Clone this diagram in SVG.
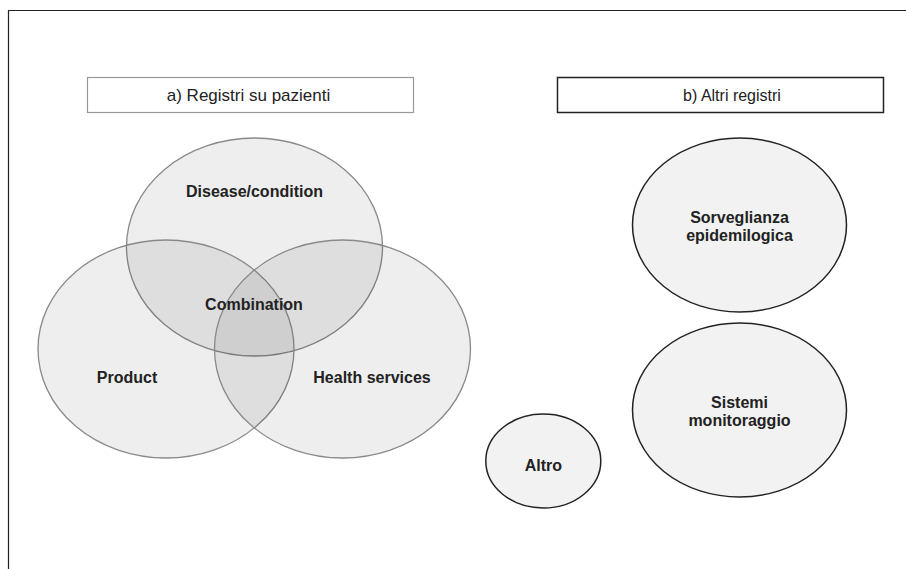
<svg xmlns="http://www.w3.org/2000/svg" width="906" height="569" viewBox="0 0 906 569">
<style>
.lbl{font-family:"Liberation Sans",Arial,Helvetica,sans-serif;font-weight:bold;font-size:16px;fill:#222;text-anchor:middle}
.hdr{font-family:"Liberation Sans",Arial,Helvetica,sans-serif;font-size:16px;fill:#222;text-anchor:middle}
.venn{fill:#000;fill-opacity:0.065;stroke:#8a8a8a;stroke-width:1.3}
.reg{fill:#f2f2f2;stroke:#222;stroke-width:1.5}
</style>
<rect width="906" height="569" fill="#fff"/>
<path d="M8.5 569 V10.5 H906" fill="none" stroke="#222" stroke-width="1.2"/>
<g id="header-a">
<rect x="87.5" y="77.5" width="326" height="35" fill="#fff" stroke="#999" stroke-width="1.2"/>
<text class="hdr" x="248.5" y="101" style="font-size:17px">a) Registri su pazienti</text>
</g>
<g id="header-b">
<rect x="557.5" y="77.5" width="326" height="35" fill="#fff" stroke="#222" stroke-width="1.5"/>
<text class="hdr" x="732" y="101">b) Altri registri</text>
</g>
<g id="disease">
<ellipse class="venn" cx="254.5" cy="247" rx="128" ry="109"/>
</g>
<g id="product">
<ellipse class="venn" cx="166" cy="349" rx="128" ry="109"/>
</g>
<g id="health">
<ellipse class="venn" cx="342.5" cy="349" rx="128" ry="109"/>
</g>
<g id="venn-labels">
<text class="lbl" x="254.5" y="197">Disease/condition</text>
<text class="lbl" x="254" y="310">Combination</text>
<text class="lbl" x="127" y="383">Product</text>
<text class="lbl" x="372" y="383">Health services</text>
</g>
<g id="sorveglianza">
<ellipse class="reg" cx="739.5" cy="225" rx="107" ry="87"/>
<text class="lbl" x="739.5" y="223">Sorveglianza</text>
<text class="lbl" x="739.5" y="241">epidemilogica</text>
</g>
<g id="sistemi">
<ellipse class="reg" cx="739.5" cy="410" rx="107" ry="87"/>
<text class="lbl" x="739.5" y="408">Sistemi</text>
<text class="lbl" x="739.5" y="426">monitoraggio</text>
</g>
<g id="altro">
<ellipse class="reg" cx="543.3" cy="461" rx="57.5" ry="47"/>
<text class="lbl" x="543.3" y="471">Altro</text>
</g>
<g id="connectors"></g>
</svg>
